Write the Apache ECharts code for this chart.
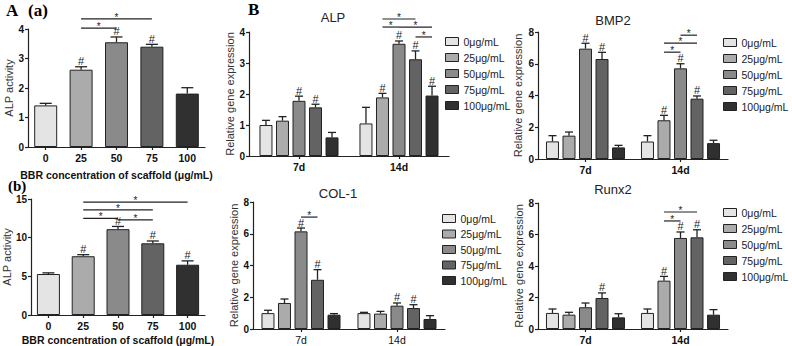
<!DOCTYPE html>
<html>
<head>
<meta charset="utf-8">
<script src="https://cdn.jsdelivr.net/npm/echarts@6/dist/echarts.min.js"></script>
<style>
  html, body { margin: 0; padding: 0; background: #fff; }
  #chart { width: 792px; height: 346px; }
</style>
</head>
<body>
<div id="chart"></div>
<script>
// ---- data ----
const concLabels = ['0', '25', '50', '75', '100'];
const doseLabels = ['0μg/mL', '25μg/mL', '50μg/mL', '75μg/mL', '100μg/mL'];
const dayLabels = ['7d', '14d'];

// A (a) ALP activity
const actA = [1.41, 2.62, 3.55, 3.40, 1.81];
const actAErr = [0.07, 0.10, 0.18, 0.08, 0.20];
const actAHash = [1, 2, 3];
const actASig = [[1, 3, 4.34], [1, 2, 4.03]]; // [from, to, level]

// A (b) ALP activity
const actB = [5.3, 7.6, 11.1, 9.27, 6.5];
const actBErr = [0.15, 0.2, 0.35, 0.3, 0.5];
const actBHash = [1, 2, 3, 4];
const actBSig = [[1, 4, 14.6], [1, 3, 13.6], [1, 2, 12.5], [2, 3, 12.3]];

// B ALP
const alp7 = [1.00, 1.14, 1.78, 1.57, 0.60];
const alp7Err = [0.15, 0.13, 0.15, 0.10, 0.16];
const alp14 = [1.05, 1.89, 3.62, 3.12, 1.95];
const alp14Err = [0.52, 0.13, 0.09, 0.27, 0.30];
const alpHash = [[2, 3], [1, 2, 3, 4]];
const alpSig = [[1, 1, 3, 4.42], [1, 1, 2, 4.16], [1, 2, 4, 4.16], [1, 3, 4, 3.84]]; // [day, from, to, level]

// B BMP2
const bmp7 = [1.11, 1.47, 6.95, 6.30, 0.73];
const bmp7Err = [0.36, 0.23, 0.34, 0.42, 0.13];
const bmp14 = [1.10, 2.44, 5.71, 3.80, 1.00];
const bmp14Err = [0.37, 0.31, 0.29, 0.17, 0.18];
const bmpHash = [[2, 3], [1, 2, 3]];
const bmpSig = [[1, 2, 3, 7.8], [1, 1, 3, 7.3], [1, 1, 2, 6.73]];

// B COL-1
const col7 = [1.00, 1.64, 6.15, 3.10, 0.90];
const col7Err = [0.18, 0.25, 0.21, 0.64, 0.07];
const col14 = [1.00, 0.97, 1.47, 1.32, 0.63];
const col14Err = [0.05, 0.14, 0.17, 0.21, 0.21];
const colHash = [[2, 3], [2, 3]];
const colSig = [[0, 2, 3, 7.05]];

// B Runx2
const runx7 = [1.02, 0.91, 1.38, 1.97, 0.74];
const runx7Err = [0.25, 0.15, 0.27, 0.32, 0.23];
const runx14 = [1.02, 3.07, 5.78, 5.82, 0.91];
const runx14Err = [0.25, 0.27, 0.38, 0.48, 0.32];
const runxHash = [[3], [1, 2, 3]];
const runxSig = [[1, 1, 3, 7.43], [1, 1, 2, 6.86]];

// ---- style ----
const colors = ['#e4e4e4', '#ababab', '#8a8a8a', '#636363', '#303030'];
const ink = '#222';
const font = 'Liberation Sans, Arial, sans-serif';
const barW = 13;
const step = barW * 1.27; // distance between bar centres in a group

// grids: A(a), A(b), ALP, BMP2, COL-1, Runx2
const grids = [
  { left: 28, top: 29, width: 177, height: 118 },
  { left: 28, top: 199, width: 177, height: 116 },
  { left: 249, top: 32, width: 200, height: 124 },
  { left: 538, top: 32, width: 190, height: 127 },
  { left: 253, top: 202, width: 192, height: 127 },
  { left: 538, top: 203, width: 190, height: 126 }
];

const axisLine = { show: true, lineStyle: { color: ink, width: 1.2 } };
const axisTick = { show: true, length: 3, lineStyle: { color: ink, width: 1.2 } };

function xAxisFor(gi, data, bold, name, gap) {
  return {
    type: 'category', gridIndex: gi, data: data,
    axisLine: axisLine, axisTick: Object.assign({ alignWithLabel: true }, axisTick),
    axisLabel: { color: '#111', fontSize: 10.5, fontWeight: bold ? 'bold' : 'normal', fontFamily: font, margin: 5 },
    name: name, nameLocation: 'middle', nameGap: gap,
    nameTextStyle: { color: '#111', fontSize: 10.5, fontWeight: 'bold', fontFamily: font }
  };
}

function yAxisFor(gi, max, interval, name, gap) {
  return {
    type: 'value', gridIndex: gi, min: 0, max: max, interval: interval,
    axisLine: axisLine, axisTick: axisTick, splitLine: { show: false },
    axisLabel: { color: '#111', fontSize: 10, fontWeight: 'bold', fontFamily: font, margin: 4 },
    name: name, nameLocation: 'middle', nameGap: gap,
    nameTextStyle: { color: '#333', fontSize: 11, fontFamily: font }
  };
}

// error bar (upper half) + optional '#'
function errorRender(capW, hashSize) {
  return function (params, api) {
    const cat = api.value(0), mean = api.value(1), err = api.value(2), k = api.value(3), hash = api.value(4);
    const p = api.coord([cat, mean]);
    const x = p[0] + (k - 2) * (params.seriesName === 'errA' ? 0 : step);
    const yTop = api.coord([cat, mean + err])[1];
    const st = { stroke: ink, lineWidth: 1.3 };
    const children = [
      { type: 'line', shape: { x1: x, y1: p[1], x2: x, y2: yTop }, style: st },
      { type: 'line', shape: { x1: x - capW / 2, y1: yTop, x2: x + capW / 2, y2: yTop }, style: st }
    ];
    if (hash) {
      children.push({
        type: 'text',
        style: { x: x, y: yTop, text: '#', align: 'center', verticalAlign: 'bottom', fontSize: hashSize, fontFamily: font, fill: ink }
      });
    }
    return { type: 'group', children: children };
  };
}

// significance line with '*'
function sigRender(params, api) {
  const useStep = params.seriesName === 'sigA' ? 0 : step;
  const a = api.coord([api.value(0), api.value(1)]);
  const b = api.coord([api.value(3), api.value(1)]);
  const x1 = a[0] + (api.value(2) - 2) * useStep;
  const x2 = b[0] + (api.value(4) - 2) * useStep;
  return {
    type: 'group',
    children: [
      { type: 'line', shape: { x1: x1, y1: a[1], x2: x2, y2: a[1] }, style: { stroke: ink, lineWidth: 1.2 } },
      { type: 'text', style: { x: (x1 + x2) / 2, y: a[1] - 1.5, text: '*', align: 'center', verticalAlign: 'middle', fontSize: 10, fontFamily: font, fill: ink } }
    ]
  };
}

const series = [];

// panel A bars
function addConcPanel(gi, values, errs, hash, sig) {
  series.push({
    type: 'bar', name: 'barsA' + gi, xAxisIndex: gi, yAxisIndex: gi, barWidth: 23, silent: true,
    itemStyle: { borderColor: ink, borderWidth: 1 },
    data: values.map((v, i) => ({ value: v, itemStyle: { color: colors[i] } }))
  });
  series.push({
    type: 'custom', name: 'errA', xAxisIndex: gi, yAxisIndex: gi, silent: true, z: 5,
    renderItem: errorRender(12, 11), encode: { x: 0, y: 1 },
    data: values.map((v, i) => [i, v, errs[i], 2, hash.includes(i) ? 1 : 0])
  });
  series.push({
    type: 'custom', name: 'sigA', xAxisIndex: gi, yAxisIndex: gi, silent: true, z: 5,
    renderItem: sigRender, encode: { x: 0, y: 1 },
    data: sig.map(s => [s[0], s[2], 2, s[1], 2])
  });
}

// panel B grouped bars
function addGenePanel(gi, d7, e7, d14, e14, hash, sig) {
  const errData = [];
  for (let k = 0; k < 5; k++) {
    series.push({
      type: 'bar', name: doseLabels[k], xAxisIndex: gi, yAxisIndex: gi,
      barWidth: barW, barGap: '27%', silent: true,
      itemStyle: { color: colors[k], borderColor: ink, borderWidth: 1 },
      data: [d7[k], d14[k]]
    });
    errData.push([0, d7[k], e7[k], k, hash[0].includes(k) ? 1 : 0]);
    errData.push([1, d14[k], e14[k], k, hash[1].includes(k) ? 1 : 0]);
  }
  series.push({
    type: 'custom', name: 'errB', xAxisIndex: gi, yAxisIndex: gi, silent: true, z: 5,
    renderItem: errorRender(8, 11), encode: { x: 0, y: 1 }, data: errData
  });
  series.push({
    type: 'custom', name: 'sigB', xAxisIndex: gi, yAxisIndex: gi, silent: true, z: 5,
    renderItem: sigRender, encode: { x: 0, y: 1 },
    data: sig.map(s => [s[0], s[3], s[1], s[0], s[2]])
  });
}

addConcPanel(0, actA, actAErr, actAHash, actASig);
addConcPanel(1, actB, actBErr, actBHash, actBSig);
addGenePanel(2, alp7, alp7Err, alp14, alp14Err, alpHash, alpSig);
addGenePanel(3, bmp7, bmp7Err, bmp14, bmp14Err, bmpHash, bmpSig);
addGenePanel(4, col7, col7Err, col14, col14Err, colHash, colSig);
addGenePanel(5, runx7, runx7Err, runx14, runx14Err, runxHash, runxSig);

const bbrName = 'BBR concentration of scaffold (μg/mL)';
const geneName = 'Relative gene expression';

function legendAt(left, top, gap) {
  return {
    data: doseLabels, left: left, top: top, orient: 'vertical',
    icon: 'rect', itemWidth: 13, itemHeight: 8, itemGap: gap, selectedMode: false,
    itemStyle: { borderColor: ink, borderWidth: 1 },
    textStyle: { color: '#222', fontSize: 10.5, fontFamily: font }
  };
}

function label(text, x, y, size, extra) {
  return {
    type: 'text', x: x, y: y, silent: true,
    style: Object.assign({ text: text, fontSize: size, fontFamily: font, fill: '#222', align: 'center', verticalAlign: 'middle' }, extra || {})
  };
}

const serif = { fontFamily: 'Liberation Serif, DejaVu Serif, serif', fontWeight: 'bold', fill: '#000', align: 'left' };

const option = {
  animation: false,
  backgroundColor: '#fff',
  grid: grids,
  xAxis: [
    xAxisFor(0, concLabels, true, bbrName, 22),
    xAxisFor(1, concLabels, true, bbrName, 19),
    xAxisFor(2, dayLabels, true, '', 0),
    xAxisFor(3, dayLabels, true, '', 0),
    xAxisFor(4, dayLabels, false, '', 0),
    xAxisFor(5, dayLabels, true, '', 0)
  ],
  yAxis: [
    yAxisFor(0, 4, 1, 'ALP activity', 12),
    yAxisFor(1, 15, 5, 'ALP activity', 16),
    yAxisFor(2, 4, 1, geneName, 10),
    yAxisFor(3, 8, 2, geneName, 15),
    yAxisFor(4, 8, 2, geneName, 9),
    yAxisFor(5, 8, 2, geneName, 14)
  ],
  legend: [
    legendAt(440, 31, 5),
    legendAt(718, 32, 5),
    legendAt(437, 208, 4.5),
    legendAt(718, 202, 5)
  ],
  graphic: [
    label('A', 6, 10, 17, serif),
    label('(a)', 28, 10, 17, serif),
    label('(b)', 8, 186, 15, serif),
    label('B', 248, 9, 17, serif),
    label('ALP', 333, 17, 13),
    label('BMP2', 613, 20, 13),
    label('COL-1', 338, 193, 13),
    label('Runx2', 613, 189, 13)
  ],
  series: series
};

const chart = echarts.init(document.getElementById('chart'), null, { renderer: 'svg' });
chart.setOption(option);
window.addEventListener('resize', () => chart.resize());
</script>
</body>
</html>
